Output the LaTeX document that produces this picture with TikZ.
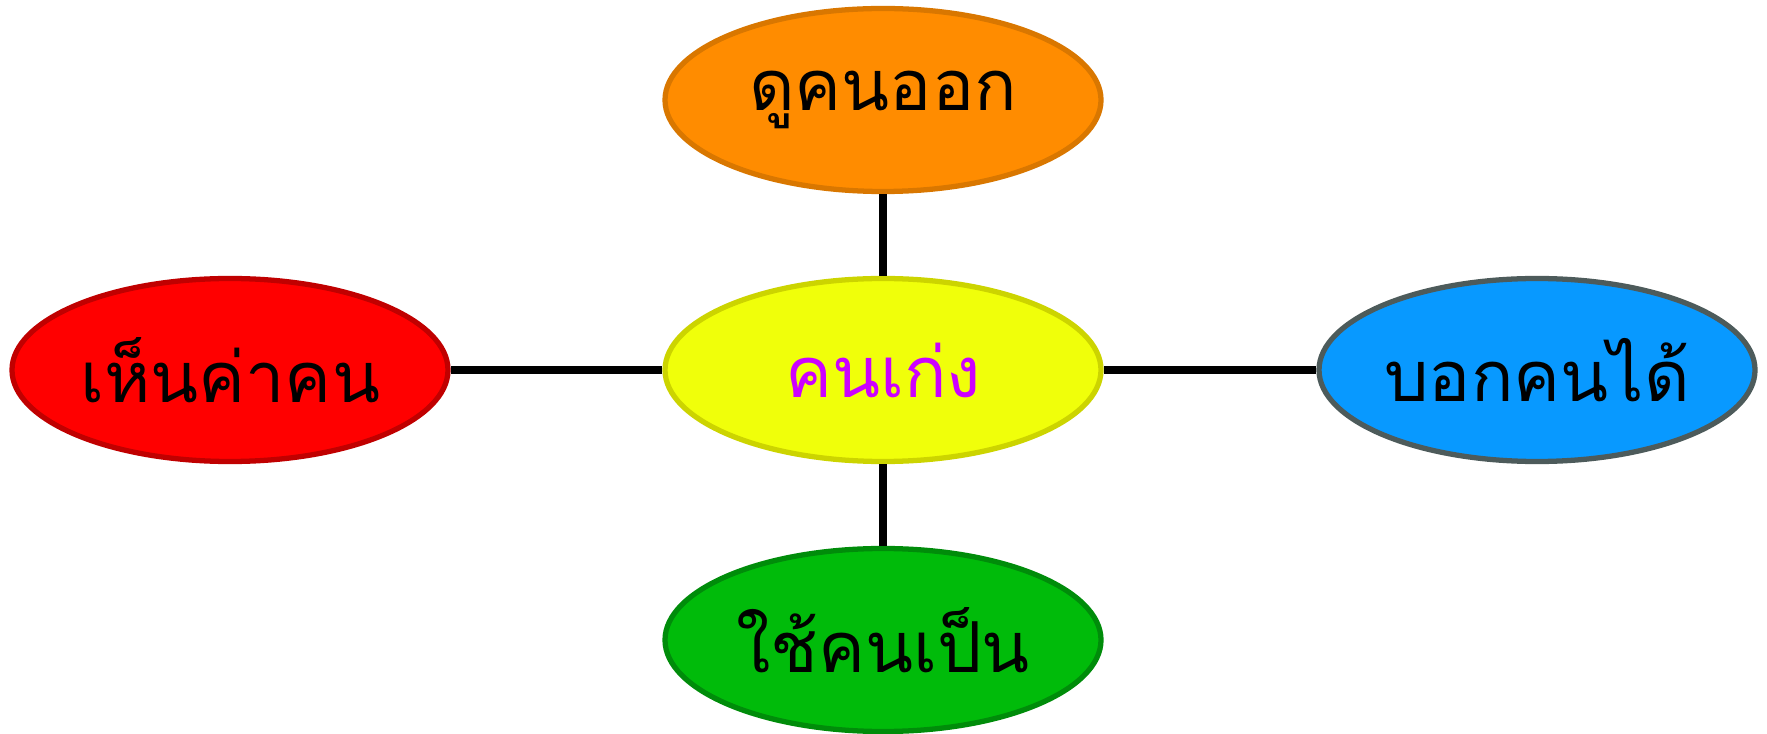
\documentclass[tikz,border=0pt]{standalone}
\usepackage{fontspec}
\newfontfamily\thaifont[Script=Thai]{Loma}
\usetikzlibrary{shapes.geometric}
\definecolor{orangefill}{HTML}{FF8C00}
\definecolor{orangeline}{HTML}{D97700}
\definecolor{yellowfill}{HTML}{F0FF0A}
\definecolor{yellowline}{HTML}{CCD400}
\definecolor{purpletext}{HTML}{CC00FF}
\definecolor{redfill}{HTML}{FF0000}
\definecolor{redline}{HTML}{C00000}
\definecolor{bluefill}{HTML}{0899FF}
\definecolor{blueline}{HTML}{4D5B5B}
\definecolor{greenfill}{HTML}{00BB0A}
\definecolor{greenline}{HTML}{008C0A}
\begin{document}
\begin{tikzpicture}[font=\thaifont\fontsize{20}{24}\selectfont,
  bubble/.style={ellipse, line width=1.5pt, minimum width=4.36cm, minimum height=1.83cm, inner sep=0pt},
  link/.style={line width=2.2pt}]

\useasboundingbox (0,0) rectangle (17.67,7.33);

\node[bubble, draw=yellowline, fill=yellowfill, text=purpletext] (center) at (8.83,3.63) {คนเก่ง};
\node[bubble, draw=orangeline, fill=orangefill] (top) at (8.83,6.33) {ดูคนออก};
\node[bubble, draw=greenline, fill=greenfill] (bottom) at (8.83,0.93) {ใช้คนเป็น};
\node[bubble, draw=redline, fill=redfill] (left) at (2.30,3.63) {เห็นค่าคน};
\node[bubble, draw=blueline, fill=bluefill] (right) at (15.37,3.63) {บอกคนได้};

\draw[link] (center) -- (top);
\draw[link] (center) -- (bottom);
\draw[link] (center) -- (left);
\draw[link] (center) -- (right);

\end{tikzpicture}
\end{document}
